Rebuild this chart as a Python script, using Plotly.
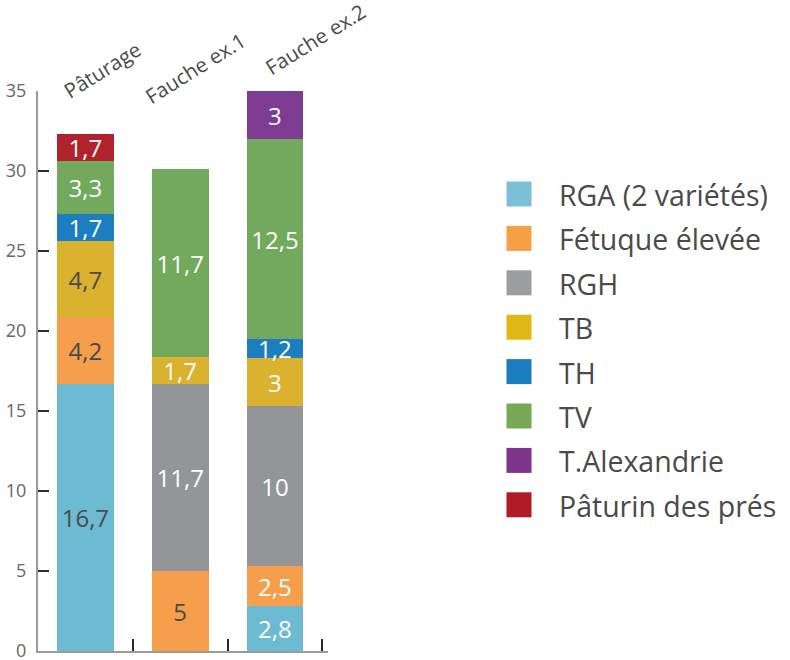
import plotly.graph_objects as go

categories = ["Pâturage", "Fauche ex.1", "Fauche ex.2"]
series_names = ["RGA (2 variétés)", "Fétuque élevée", "RGH", "TB", "TH", "TV",
                "T.Alexandrie", "Pâturin des prés"]

rga = [16.7, None, 2.8]
fetuque = [4.2, 5, 2.5]
rgh = [None, 11.7, 10]
tb = [4.7, 1.7, 3]
th = [1.7, None, 1.2]
tv = [3.3, 11.7, 12.5]
talex = [None, None, 3]
paturin = [1.7, None, None]
series_values = [rga, fetuque, rgh, tb, th, tv, talex, paturin]

y_ticks = [0, 5, 10, 15, 20, 25, 30, 35]

# styles
series_colors = ["#6dbad3", "#f59e4b", "#939598", "#dab22f", "#1c7dc0", "#72a95d",
                 "#7d3b92", "#b0232c"]
legend_colors = ["#7bc0d6", "#f4a145", "#9d9ea0", "#e0b815", "#1b7dc0", "#77a855",
                 "#7d3589", "#b11b27"]
DARK = "#4a4a4a"
WHITE = "#ffffff"
label_colors = [
    [DARK, DARK, WHITE],
    [DARK, DARK, WHITE],
    [DARK, WHITE, WHITE],
    [DARK, WHITE, WHITE],
    [WHITE, WHITE, WHITE],
    [WHITE, WHITE, WHITE],
    [WHITE, WHITE, WHITE],
    [WHITE, WHITE, WHITE],
]
FONT = "Open Sans"

W, H = 790, 660
L, R_EDGE, T, B_EDGE = 38, 327.7, 91, 651


def fmt(v):
    return "" if v is None else f"{v:g}".replace(".", ",")


def px2x(px):
    return (px - L) / (R_EDGE - L)


def py2y(py):
    return (B_EDGE - py) / (B_EDGE - T)


fig = go.Figure()
for name, vals, col, tcol in zip(series_names, series_values, series_colors, label_colors):
    fig.add_trace(go.Bar(
        x=categories, y=vals, name=name,
        marker=dict(color=col, line=dict(width=0)),
        width=0.6,
        text=[fmt(v) for v in vals],
        textposition="inside",
        insidetextanchor="middle",
        constraintext="none",
        textangle=0,
        textfont=dict(family=FONT, size=24, color=tcol),
        showlegend=False,
        hoverinfo="skip",
    ))

shapes = []
annotations = []
# legend (manual, built from the series lists)
for i, (name, col) in enumerate(zip(series_names, legend_colors)):
    cy = 194 + i * 44.4
    shapes.append(dict(type="rect", xref="paper", yref="paper",
                       x0=px2x(506), x1=px2x(531), y0=py2y(cy + 12.5), y1=py2y(cy - 12.5),
                       fillcolor=col, line=dict(width=0)))
    annotations.append(dict(xref="paper", yref="paper", x=px2x(556), y=py2y(cy + 1),
                            xanchor="left", yanchor="middle", showarrow=False,
                            text=name, font=dict(family=FONT, size=28.5, color=DARK)))

# rotated category labels on top
cat_pos = [(55, 107), (137, 113), (257, 84)]
for cat, (px, py) in zip(categories, cat_pos):
    annotations.append(dict(xref="paper", yref="paper", x=px2x(px), y=py2y(py),
                            xanchor="left", yanchor="bottom", showarrow=False,
                            textangle=-32, text=cat,
                            font=dict(family=FONT, size=20.5, color=DARK)))

fig.update_layout(
    width=W, height=H,
    margin=dict(l=L, r=W - R_EDGE, t=T, b=H - B_EDGE, pad=0, autoexpand=False),
    barmode="stack",
    plot_bgcolor="white", paper_bgcolor="white",
    font=dict(family=FONT, color=DARK),
    shapes=shapes, annotations=annotations,
    showlegend=False,
)
fig.update_xaxes(
    range=[-0.5, 2.56], showgrid=False, zeroline=False, automargin=False,
    showline=True, linecolor="#9a9a9a", linewidth=2,
    ticks="inside", tickson="boundaries", ticklen=12, tickwidth=2, tickcolor="#2b2b2b",
    showticklabels=False,
)
fig.update_yaxes(
    range=[0, 35], tickvals=y_ticks, showgrid=False, zeroline=False, automargin=False,
    showline=True, linecolor="#9a9a9a", linewidth=2,
    ticks="inside", ticklen=11, tickwidth=2, tickcolor="#2b2b2b",
    tickfont=dict(family=FONT, size=18, color="#666666"),
    ticklabelstandoff=6, ticklabeloverflow="allow",
)

fig.write_html("out.html", config={"displayModeBar": False},
               post_script="document.body.style.margin='0';document.body.style.overflow='hidden';")
